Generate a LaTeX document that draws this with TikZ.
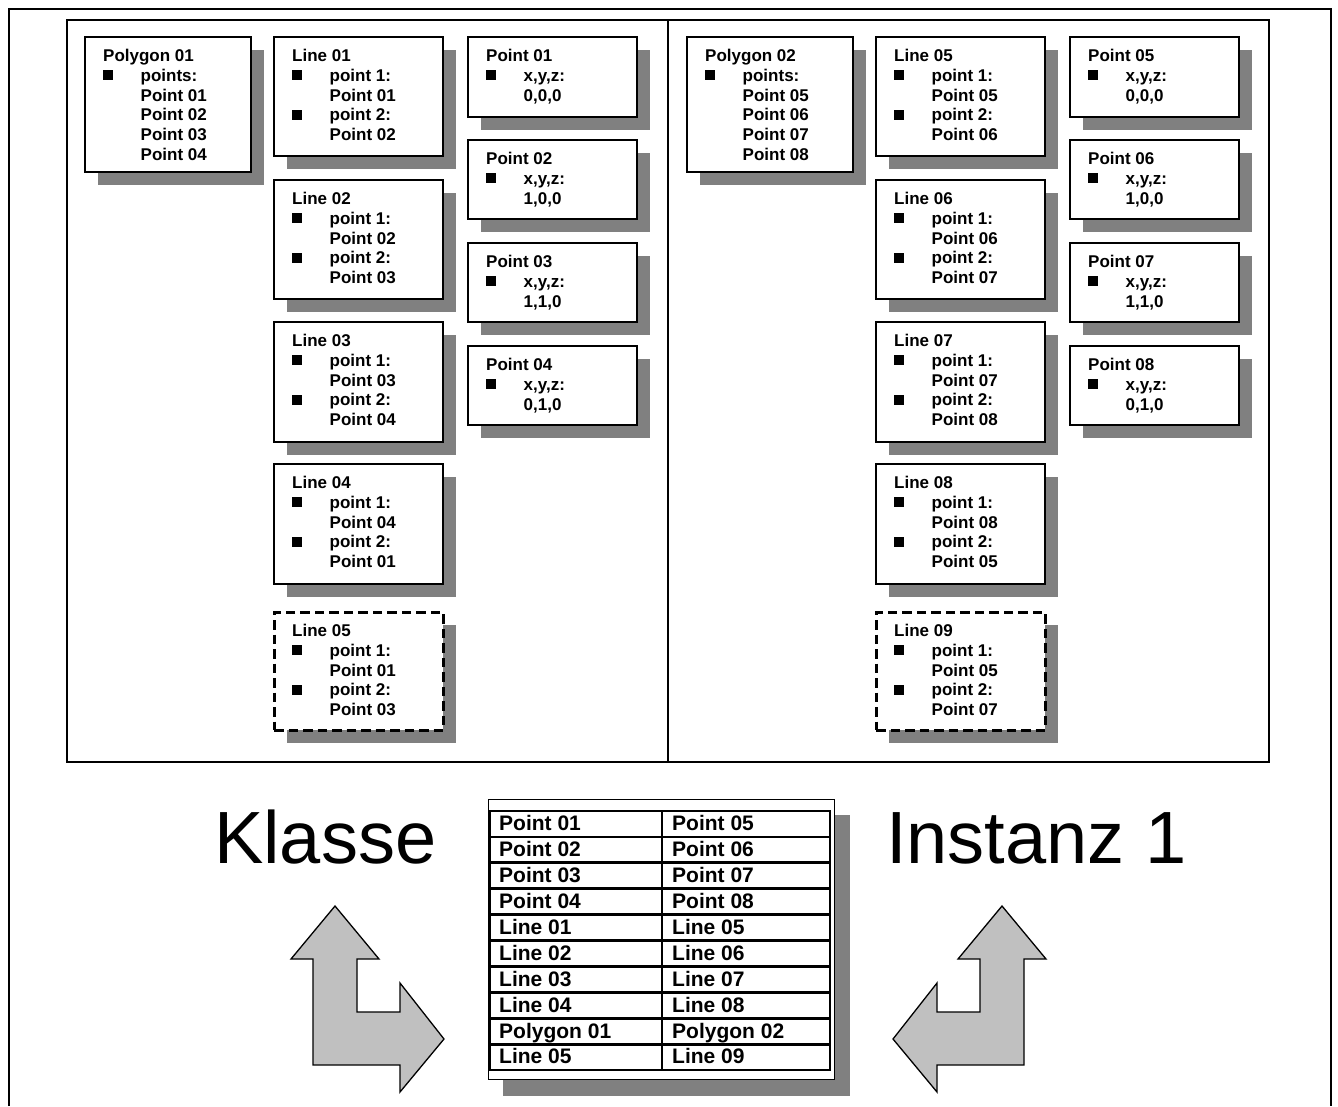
\documentclass[tikz,border=0pt]{standalone}
\usepackage{fontspec}
\setmainfont{Liberation Sans}
\definecolor{shadowgray}{HTML}{808080}
\definecolor{arrowfill}{HTML}{C0C0C0}
\newcommand{\bul}{\makebox[37.5pt][l]{\raisebox{1pt}{\rule{10pt}{10pt}}}}
\newcommand{\ind}{\hspace*{37.5pt}}
\tikzset{
  objbox/.style={draw=black, fill=white, line width=2pt, rectangle, inner sep=0pt, outer sep=0pt, anchor=north west},
  objboxdash/.style={objbox, dash pattern=on 9.5pt off 5pt, line width=3pt},
  boxtext/.style={inner sep=0pt, anchor=north west, align=left, font=\fontsize{17}{19.8}\selectfont\bfseries},
  frameline/.style={line width=1.8pt, draw=black},
  gridline/.style={line width=2.8pt, draw=black},
  celltext/.style={inner sep=0pt, anchor=base west, font=\fontsize{21}{25}\selectfont\bfseries},
  bigtext/.style={inner sep=0pt, anchor=base west, font=\fontsize{74}{80}\selectfont},
  bigarrow/.style={fill=arrowfill, draw=black, line width=1.3pt, line join=miter}
}
\newcommand{\mkobj}[7]{%
  \fill[shadowgray] ({#3+13},{#4+13}) rectangle ++(#5,#6);
  \node[#1, minimum width=#5pt, minimum height=#6pt] (#2) at (#3,#4) {};
  \node[boxtext] (#2t) at ({#3+18},{#4+12}) {#7};
}
\begin{document}
\begin{tikzpicture}[x=1pt,y=-1pt]
\useasboundingbox (0,0) rectangle (1338,1106);
\fill[white] (0,0) rectangle (1338,1106);
% frames
\draw[frameline] (9,1106) -- (9,9) -- (1331,9) -- (1331,1106);
\draw[frameline] (67,20) rectangle (1269,762);
\draw[frameline] (668,20) -- (668,762);
% left half
\mkobj{objbox}{poly1}{85}{37}{166}{135}{Polygon 01\\\bul points:\\\ind Point 01\\\ind Point 02\\\ind Point 03\\\ind Point 04}
\mkobj{objbox}{line1}{274}{37}{169}{119}{Line 01\\\bul point 1:\\\ind Point 01\\\bul point 2:\\\ind Point 02}
\mkobj{objbox}{line2}{274}{180}{169}{119}{Line 02\\\bul point 1:\\\ind Point 02\\\bul point 2:\\\ind Point 03}
\mkobj{objbox}{line3}{274}{322}{169}{120}{Line 03\\\bul point 1:\\\ind Point 03\\\bul point 2:\\\ind Point 04}
\mkobj{objbox}{line4}{274}{464}{169}{120}{Line 04\\\bul point 1:\\\ind Point 04\\\bul point 2:\\\ind Point 01}
\mkobj{objboxdash}{line5a}{274}{612}{169}{118}{Line 05\\\bul point 1:\\\ind Point 01\\\bul point 2:\\\ind Point 03}
\mkobj{objbox}{pt1}{468}{37}{169}{80}{Point 01\\\bul x,y,z:\\\ind 0,0,0}
\mkobj{objbox}{pt2}{468}{140}{169}{79}{Point 02\\\bul x,y,z:\\\ind 1,0,0}
\mkobj{objbox}{pt3}{468}{243}{169}{79}{Point 03\\\bul x,y,z:\\\ind 1,1,0}
\mkobj{objbox}{pt4}{468}{346}{169}{79}{Point 04\\\bul x,y,z:\\\ind 0,1,0}
% right half
\mkobj{objbox}{poly2}{687}{37}{166}{135}{Polygon 02\\\bul points:\\\ind Point 05\\\ind Point 06\\\ind Point 07\\\ind Point 08}
\mkobj{objbox}{line5}{876}{37}{169}{119}{Line 05\\\bul point 1:\\\ind Point 05\\\bul point 2:\\\ind Point 06}
\mkobj{objbox}{line6}{876}{180}{169}{119}{Line 06\\\bul point 1:\\\ind Point 06\\\bul point 2:\\\ind Point 07}
\mkobj{objbox}{line7}{876}{322}{169}{120}{Line 07\\\bul point 1:\\\ind Point 07\\\bul point 2:\\\ind Point 08}
\mkobj{objbox}{line8}{876}{464}{169}{120}{Line 08\\\bul point 1:\\\ind Point 08\\\bul point 2:\\\ind Point 05}
\mkobj{objboxdash}{line9}{876}{612}{169}{118}{Line 09\\\bul point 1:\\\ind Point 05\\\bul point 2:\\\ind Point 07}
\mkobj{objbox}{pt5}{1070}{37}{169}{80}{Point 05\\\bul x,y,z:\\\ind 0,0,0}
\mkobj{objbox}{pt6}{1070}{140}{169}{79}{Point 06\\\bul x,y,z:\\\ind 1,0,0}
\mkobj{objbox}{pt7}{1070}{243}{169}{79}{Point 07\\\bul x,y,z:\\\ind 1,1,0}
\mkobj{objbox}{pt8}{1070}{346}{169}{79}{Point 08\\\bul x,y,z:\\\ind 0,1,0}
% table
\fill[shadowgray] (503,815) rectangle (850,1096);
\node[draw=black, fill=white, line width=1.2pt, minimum width=346pt, minimum height=280pt, anchor=north west, inner sep=0pt] (tbl) at (488,799) {};
\draw[gridline] (490,811) rectangle (830,1070);
\foreach \i in {1,...,9} { \draw[gridline] (490,{811+\i*25.9}) -- (830,{811+\i*25.9}); }
\draw[gridline] (662,811) -- (662,1070);
\foreach \a/\b [count=\i from 0] in {Point 01/Point 05,Point 02/Point 06,Point 03/Point 07,Point 04/Point 08,Line 01/Line 05,Line 02/Line 06,Line 03/Line 07,Line 04/Line 08,Polygon 01/Polygon 02,Line 05/Line 09} {
  \node[celltext] (cl\i) at (499,{811+\i*25.9+19.8}) {\a};
  \node[celltext] (cr\i) at (672,{811+\i*25.9+19.8}) {\b};
}
% big labels
\node[bigtext] (klasse) at (214,863) {Klasse};
\node[bigtext] (instanz) at (886,863) {Instanz 1};
% arrows
\draw[bigarrow] (335,906) -- (379,959) -- (357,959) -- (357,1012) -- (400,1012) -- (400,983) -- (444,1039) -- (400,1092) -- (400,1065) -- (313,1065) -- (313,959) -- (291,959) -- cycle;
\draw[bigarrow] (1002,906) -- (1046,959) -- (1024,959) -- (1024,1065) -- (937,1065) -- (937,1092) -- (893,1039) -- (937,983) -- (937,1012) -- (980,1012) -- (980,959) -- (958,959) -- cycle;
\end{tikzpicture}
\end{document}
